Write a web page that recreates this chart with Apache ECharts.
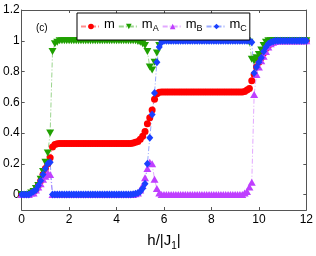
<!DOCTYPE html>
<html><head><meta charset="utf-8">
<script src="https://cdn.jsdelivr.net/npm/echarts@6/dist/echarts.min.js"></script>
<style>html,body{margin:0;padding:0;background:#fff}#c{width:316px;height:256px}</style>
</head><body><div id="c"></div>
<script>
const H = [0,0.1,0.2,0.3,0.4,0.5,0.6,0.7,0.8,0.9,
1,1.1,1.2,1.3,1.4,1.5,1.6,1.7,1.8,1.9,
2,2.1,2.2,2.3,2.4,2.5,2.6,2.7,2.8,2.9,
3,3.1,3.2,3.3,3.4,3.5,3.6,3.7,3.8,3.9,
4,4.1,4.2,4.3,4.4,4.5,4.6,4.7,4.8,4.9,
5,5.1,5.2,5.3,5.4,5.5,5.6,5.7,5.8,5.9,
6,6.1,6.2,6.3,6.4,6.5,6.6,6.7,6.8,6.9,
7,7.1,7.2,7.3,7.4,7.5,7.6,7.7,7.8,7.9,
8,8.1,8.2,8.3,8.4,8.5,8.6,8.7,8.8,8.9,
9,9.1,9.2,9.3,9.4,9.5,9.6,9.7,9.8,9.9,
10,10.1,10.2,10.3,10.4,10.5,10.6,10.7,10.8,10.9,
11,11.1,11.2,11.3,11.4,11.5,11.6,11.7,11.8,11.9,
12];
const M = [0,0,0,0,0.01,0.02,0.03,0.06,0.09,0.13,
0.17,0.2,0.24,0.31,0.325,0.33,0.333,0.333,0.333,0.333,
0.333,0.333,0.333,0.333,0.333,0.333,0.333,0.333,0.333,0.333,
0.333,0.333,0.333,0.333,0.333,0.333,0.333,0.333,0.333,0.333,
0.333,0.333,0.333,0.333,0.333,0.333,0.333,0.335,0.34,0.345,
0.36,0.38,0.41,0.46,0.5,0.55,0.62,0.655,0.665,0.667,
0.667,0.667,0.667,0.667,0.667,0.667,0.667,0.667,0.667,0.667,
0.667,0.667,0.667,0.667,0.667,0.667,0.667,0.667,0.667,0.667,
0.667,0.667,0.667,0.667,0.667,0.667,0.667,0.667,0.667,0.667,
0.667,0.667,0.667,0.667,0.67,0.68,0.69,0.74,0.78,0.83,
0.86,0.89,0.92,0.95,0.97,0.98,0.99,0.995,1,1,
1,1,1,1,1,1,1,1,1,1,
1];
const MA = [0,0,0,0,0.01,0.02,0.04,0.06,0.1,0.15,
0.21,0.27,0.4,0.93,0.98,0.99,1,1,1,1,
1,1,1,1,1,1,1,1,1,1,
1,1,1,1,1,1,1,1,1,1,
1,1,1,1,1,1,1,1,1,0.995,
0.99,0.98,0.97,0.93,0.83,0.81,0.86,0.92,0.97,0.99,
1,1,1,1,1,1,1,1,1,1,
1,1,1,1,1,1,1,1,1,1,
1,1,1,1,1,1,1,1,1,1,
1,1,1,1,1,1,0.99,0.88,0.87,0.89,
0.91,0.94,0.97,0.99,1,1,1,1,1,1,
1,1,1,1,1,1,1,1,1,1,
1];
const MB = [0,0,0,0,0.01,0.01,0.03,0.05,0.07,0.1,
0.12,0.14,0.13,0,0,0,0,0,0,0,
0,0,0,0,0,0,0,0,0,0,
0,0,0,0,0,0,0,0,0,0,
0,0,0,0,0,0,0,0,0.005,0.01,
0.03,0.06,0.11,0.17,0.21,0.2,0.1,0.04,0.01,0,
0,0,0,0,0,0,0,0,0,0,
0,0,0,0,0,0,0,0,0,0,
0,0,0,0,0,0,0,0,0,0,
0,0,0,0,0.01,0.02,0.05,0.08,0.65,0.78,
0.83,0.87,0.9,0.93,0.96,0.98,0.99,0.995,1,1,
1,1,1,1,1,1,1,1,1,1,
1];
const MC = [0,0,0,0,0.01,0.02,0.03,0.06,0.09,0.13,
0.17,0.2,0.21,0,0,0,0,0,0,0,
0,0,0,0,0,0,0,0,0,0,
0,0,0,0,0,0,0,0,0,0,
0,0,0,0,0,0,0,0.003,0.005,0.01,
0.02,0.04,0.07,0.2,0.37,0.52,0.66,0.86,0.96,0.99,
1,1,1,1,1,1,1,1,1,1,
1,1,1,1,1,1,1,1,1,1,
1,1,1,1,1,1,1,1,1,1,
1,1,1,1,1,1,1,0.99,0.79,0.83,
0.86,0.89,0.93,0.96,0.98,0.99,0.995,1,1,1,
1,1,1,1,1,1,1,1,1,1,
1];
const SERIES_NAMES = ['m','mA','mB','mC'];
const X_TICKS = [0,2,4,6,8,10,12];
const Y_TICKS = [0,0.2,0.4,0.6,0.8,1,1.2];

const chart = echarts.init(document.getElementById('c'), null, {renderer:'canvas'});
const font = '"Liberation Sans", Arial, sans-serif';
const pair = arr => H.map((h,i)=>[h,arr[i]]);
const mk = (name, arr, color, symbol, size) => ({
  name, type:'line', data: pair(arr), symbol, symbolSize: size, showAllSymbol:true,
  itemStyle:{color, borderWidth:0},
  lineStyle:{color, width:1, type:[5,2,1,2], opacity:0.45},
  animation:false, emphasis:{disabled:true}, z:2
});
const tickStyle = {show:true, inside:true, length:3, lineStyle:{color:'#555'}};
const axisCommon = {
  axisLine:{show:true, onZero:false, lineStyle:{color:'#555', width:1}},
  axisTick:tickStyle,
  splitLine:{show:false}
};
chart.setOption({
  animation:false,
  grid:{left:18.5, right:9.5, top:10, bottom:38.5, containLabel:false},
  legend:{
    left:77, top:13, itemWidth:20, itemHeight:7, itemGap:3, orient:'horizontal',
    padding:[5,3,7,3], borderColor:'#000', borderWidth:1, backgroundColor:'#fff',
    data:SERIES_NAMES,
    formatter: n => n.length>1 ? 'm{s|'+n.slice(1)+'}' : 'm',
    textStyle:{fontFamily:font, fontSize:13, color:'#000', padding:[0,0,4,-2],
      rich:{s:{fontFamily:font, fontSize:9, color:'#000', padding:[8,0,0,0]}}}
  },
  title:{text:'(c)', left:31, top:18, textStyle:{fontFamily:font, fontSize:10, fontWeight:'normal', color:'#000'}},
  xAxis:[
    Object.assign({type:'value', min:0, max:12, interval:2, position:'bottom',
      axisLabel:{fontFamily:font, fontSize:12, color:'#000', margin:4},
      name:'h/|J{s|1}|', nameLocation:'middle', nameGap:21,
      nameTextStyle:{fontFamily:font, fontSize:15, color:'#000',
        rich:{s:{fontFamily:font, fontSize:10, color:'#000', padding:[10,0,0,0]}}}
    }, axisCommon),
    Object.assign({type:'value', min:0, max:12, interval:2, position:'top', axisLabel:{show:false}}, axisCommon)
  ],
  yAxis:[
    Object.assign({type:'value', min:-0.1, max:1.2, position:'left',
      axisLabel:{fontFamily:font, fontSize:12, color:'#000', margin:2, customValues:Y_TICKS, formatter:v=>String(+v.toFixed(1))}
    }, axisCommon, {axisTick:Object.assign({customValues:Y_TICKS}, tickStyle)}),
    Object.assign({type:'value', min:-0.1, max:1.2, position:'right', axisLabel:{show:false}},
      axisCommon, {axisTick:Object.assign({customValues:Y_TICKS}, tickStyle)})
  ],
  series:[
    mk('m', M, '#ff0000', 'circle', 7),
    mk('mA', MA, '#1fa000', 'path://M0,0 L10,0 L5,9 Z', [8,7]),
    mk('mB', MB, '#bf3fff', 'triangle', [8,7]),
    mk('mC', MC, '#1a40ff', 'diamond', [7,8])
  ]
});
</script></body></html>
